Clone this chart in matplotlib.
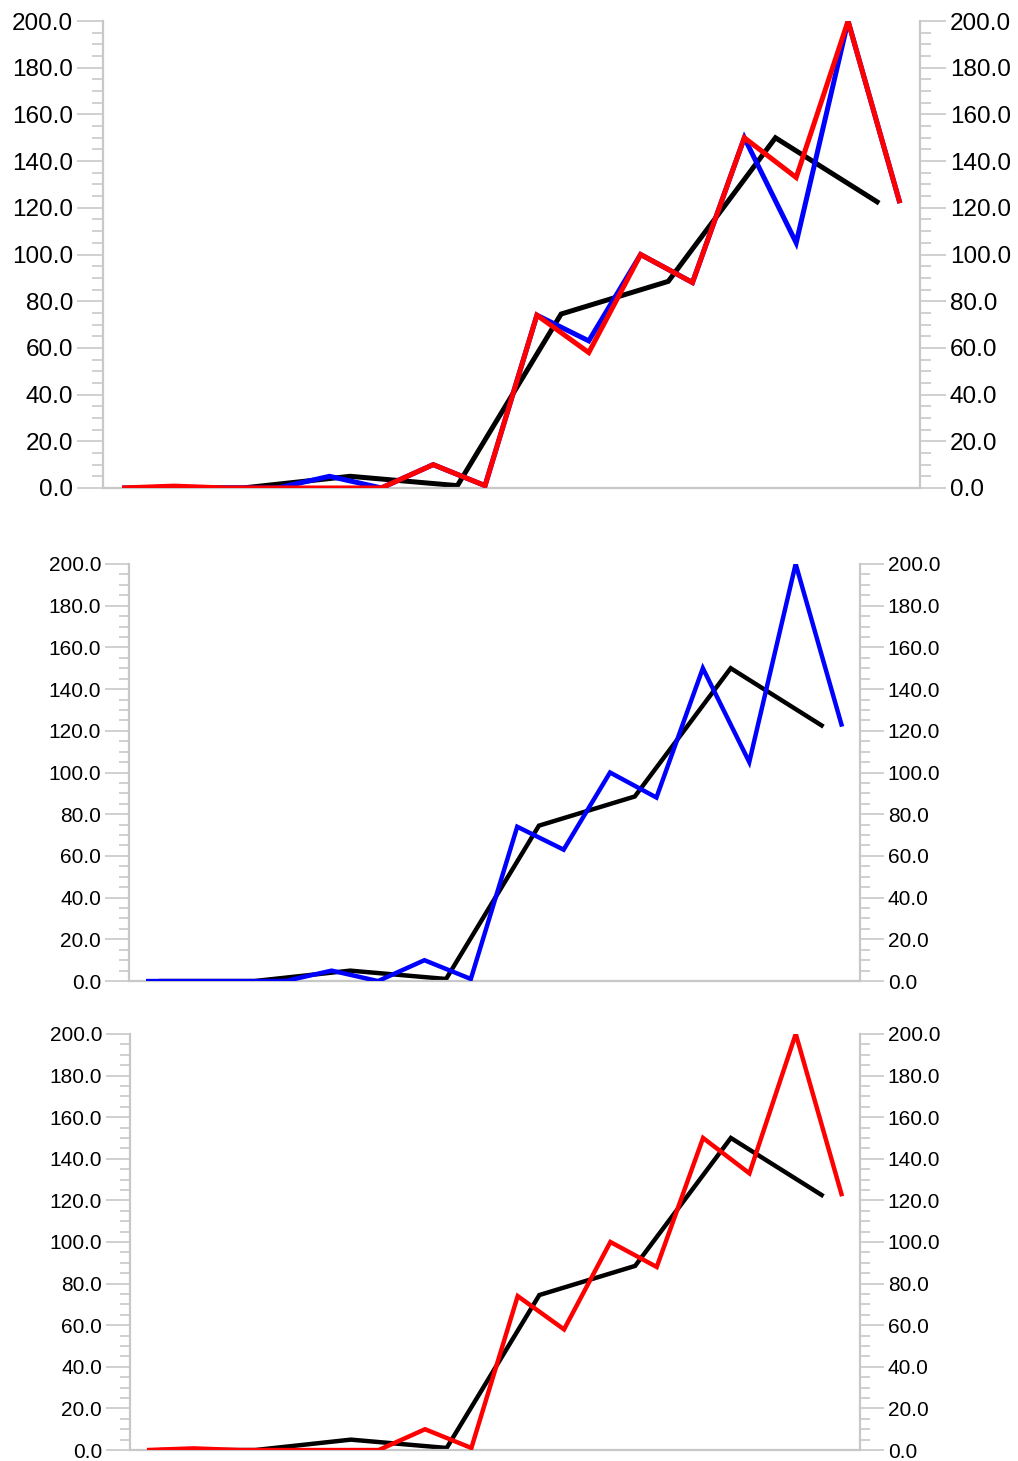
import matplotlib
matplotlib.use("Agg")
import matplotlib.pyplot as plt
from matplotlib.ticker import MultipleLocator, FormatStrFormatter

# Semi-monthly observations (day offsets) and monthly reference series
half_month_days = [0, 15, 30, 45, 60, 75, 90, 105, 120, 135, 150, 165, 180, 195, 210, 225]
monthly_days = [4, 35, 66, 97, 127, 158, 189, 219]

monthly_values = [0, 0, 5, 1, 74.5, 88.5, 150, 122]
blue_values = [0, 0, 0, 0, 5, 0, 10, 1, 74, 63, 100, 88, 150, 105, 200, 122]
red_values = [0, 0.8, 0, 0, 0, 0, 10, 1, 74, 58, 100, 88, 150, 133, 200, 122]

y_range = (0, 200)
x_range = (-5.5, 230.8)

AXIS_GREY = "#c8c8c8"

plt.rcParams["font.family"] = ["Liberation Sans", "DejaVu Sans"]

fig = plt.figure(figsize=(10.18, 14.61), dpi=100)

panels = [
    # rect, font size, line width, major tick len, minor tick len, series
    ([0.1012, 0.666, 0.8025, 0.3196], 17.5, 3.6, 18.5, 8.0, ("blue", "red")),
    ([0.1267, 0.3285, 0.7181, 0.2855], 15.0, 3.2, 17.0, 7.2, ("blue",)),
    ([0.1277, 0.0075, 0.7171, 0.2848], 15.0, 3.2, 17.0, 7.2, ("red",)),
]

for rect, fsize, lw, major_len, minor_len, series in panels:
    ax = fig.add_axes(rect)
    ax.plot(monthly_days, monthly_values, color="#000000", lw=lw,
            solid_joinstyle="miter", solid_capstyle="butt", zorder=2)
    if "blue" in series:
        ax.plot(half_month_days, blue_values, color="#0000ff", lw=lw,
                solid_joinstyle="miter", solid_capstyle="butt", zorder=3)
    if "red" in series:
        ax.plot(half_month_days, red_values, color="#ff0000", lw=lw,
                solid_joinstyle="miter", solid_capstyle="butt", zorder=4)

    ax.set_xlim(*x_range)
    ax.set_ylim(*y_range)
    ax.yaxis.set_major_locator(MultipleLocator(20))
    ax.yaxis.set_minor_locator(MultipleLocator(5))
    ax.yaxis.set_major_formatter(FormatStrFormatter("%.1f"))
    ax.set_xticks([])

    ax.spines["top"].set_visible(False)
    for side in ("left", "right", "bottom"):
        ax.spines[side].set_color(AXIS_GREY)
        ax.spines[side].set_linewidth(1.6)

    ax.tick_params(axis="y", which="both", left=True, right=True,
                   labelleft=True, labelright=True, direction="out",
                   color=AXIS_GREY, width=1.2)
    ax.tick_params(axis="y", which="major", length=major_len, pad=3,
                   labelsize=fsize, labelcolor="#000000")
    ax.tick_params(axis="y", which="minor", length=minor_len)
    for lab in ax.get_yticklabels():
        lab.set_clip_on(False)

fig.savefig("out.png", dpi=100, facecolor="white")
